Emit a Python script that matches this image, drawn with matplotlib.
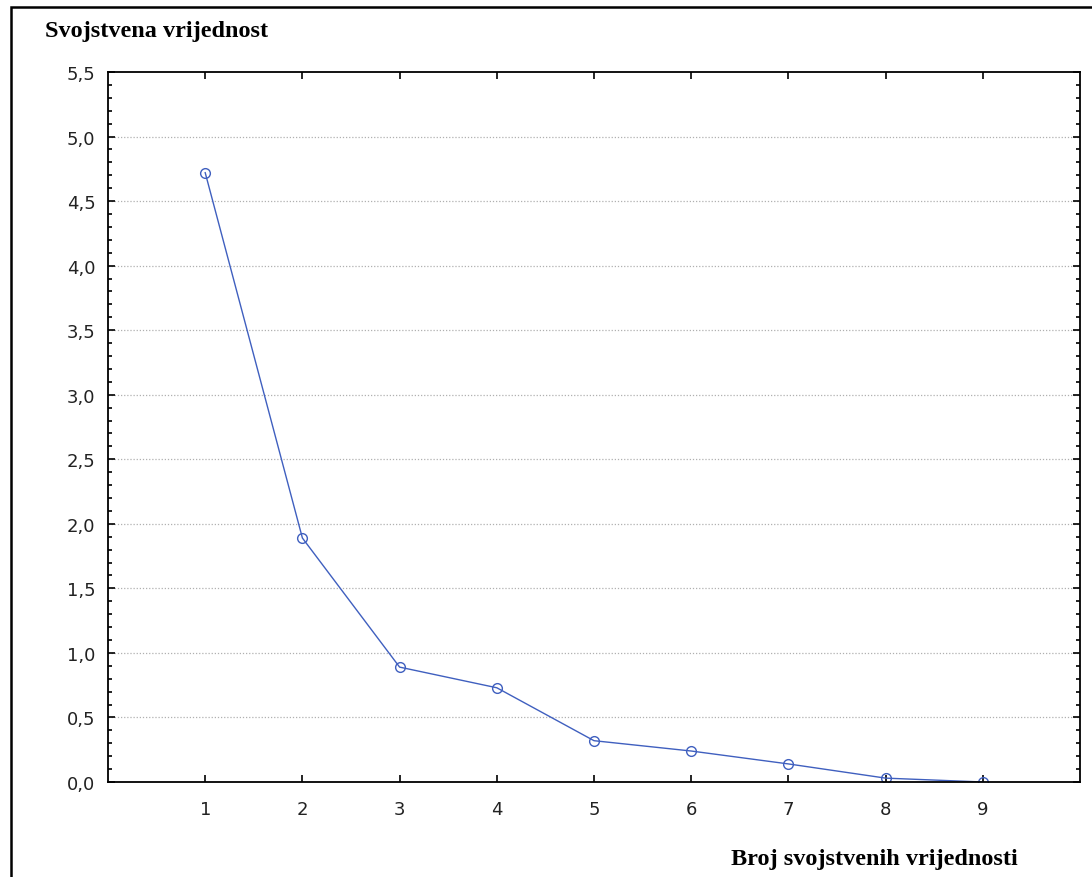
import matplotlib
matplotlib.use('Agg')
import matplotlib.pyplot as plt
from matplotlib.ticker import MultipleLocator, FuncFormatter
from matplotlib.patches import Rectangle

# scree plot data
components = [1, 2, 3, 4, 5, 6, 7, 8, 9]
eigenvalues = [4.72, 1.89, 0.89, 0.73, 0.32, 0.24, 0.14, 0.03, 0.0]

W, H = 1092, 878
fig = plt.figure(figsize=(W / 100, H / 100), dpi=100)
fig.patch.set_facecolor('white')

# outer black frame (right and bottom edges fall outside the picture)
fig.add_artist(Rectangle((11 / W, -0.05), 1.2, 1 - 8 / H + 0.05,
                         transform=fig.transFigure, fill=False,
                         edgecolor='black', linewidth=1.8))

ax = fig.add_axes([108 / W, 1 - 783 / H, (1080 - 108) / W, (783 - 73) / H])

ax.plot(components, eigenvalues, color='#3f5fbf', linewidth=1.0,
        marker='o', markersize=7, markerfacecolor='none',
        markeredgecolor='#3f5fbf', markeredgewidth=1.0)

ax.set_xlim(0, 10)
ax.set_ylim(0, 5.5)
ax.yaxis.set_major_locator(MultipleLocator(0.5))
ax.yaxis.set_minor_locator(MultipleLocator(0.1))
ax.set_xticks(components)
ax.yaxis.set_major_formatter(FuncFormatter(lambda v, p: f"{v:.1f}".replace('.', ',')))

ax.tick_params(axis='both', which='major', direction='in', length=5, width=1.2,
               top=True, right=True, labelsize=13, colors='black')
ax.tick_params(axis='y', which='minor', direction='in', length=3, width=1.2,
               left=True, right=True)
ax.tick_params(axis='x', which='major', pad=13)
ax.tick_params(axis='y', which='major', pad=9)
for lbl in ax.get_xticklabels() + ax.get_yticklabels():
    lbl.set_fontfamily('DejaVu Sans')
    lbl.set_color('#222222')

for s in ax.spines.values():
    s.set_linewidth(1.3)

# dotted grid at the major levels
for yv in [0.5, 1.0, 1.5, 2.0, 2.5, 3.0, 3.5, 4.0, 4.5, 5.0]:
    ax.axhline(yv, color='#b0b0b0', linestyle=(0, (1, 1.5)), linewidth=0.9, zorder=0)

fig.text(45 / W, 1 - 32 / H, 'Svojstvena vrijednost', fontsize=17.5,
         fontweight='bold', fontfamily='Liberation Serif', va='center', ha='left')
fig.text(1018 / W, 1 - 860 / H, 'Broj svojstvenih vrijednosti', fontsize=17.5,
         fontweight='bold', fontfamily='Liberation Serif', va='center', ha='right')

fig.savefig('out.png', dpi=100, facecolor='white')
